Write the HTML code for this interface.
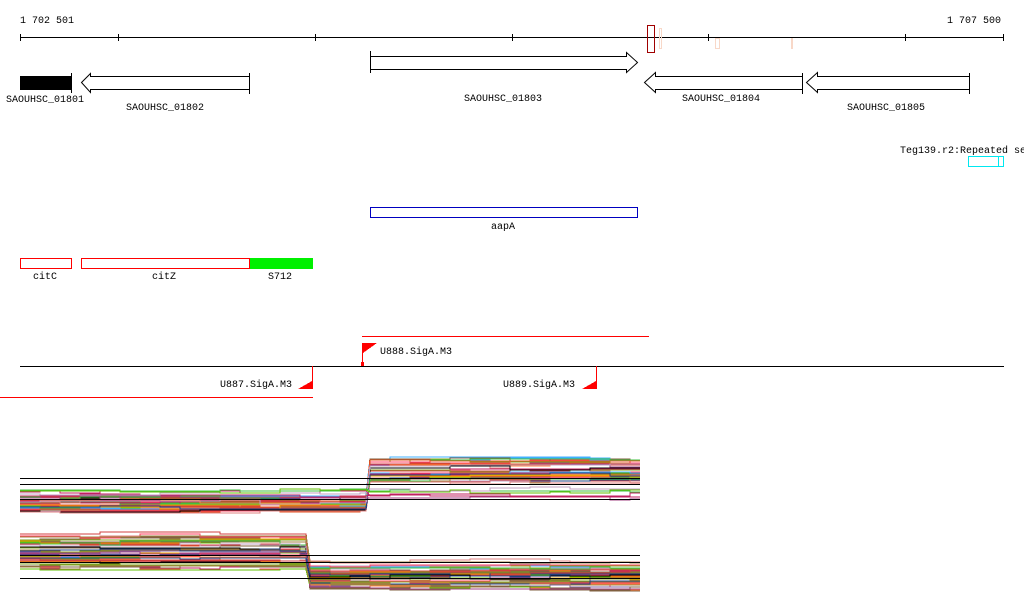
<!DOCTYPE html>
<html><head><meta charset="utf-8"><style>
html,body{margin:0;padding:0;background:#fff;width:1024px;height:611px;overflow:hidden}
svg text{font-family:"Liberation Mono",monospace;font-size:10px;fill:#000}
</style></head><body>
<svg id="s" width="1024" height="611" xmlns="http://www.w3.org/2000/svg" shape-rendering="crispEdges">
<text x="20" y="23">1 702 501</text>
<text x="947" y="23">1 707 500</text>
<g stroke="#000" stroke-width="1">
<line x1="20" y1="37.5" x2="1004" y2="37.5"/>
<line x1="20.5" y1="34" x2="20.5" y2="41"/><line x1="118.5" y1="34" x2="118.5" y2="41"/>
<line x1="315.5" y1="34" x2="315.5" y2="41"/><line x1="512.5" y1="34" x2="512.5" y2="41"/>
<line x1="708.5" y1="34" x2="708.5" y2="41"/><line x1="905.5" y1="34" x2="905.5" y2="41"/>
<line x1="1003.5" y1="34" x2="1003.5" y2="41"/>
</g>
<rect x="647.5" y="25.5" width="7" height="27" fill="none" stroke="#a00000"/>
<rect x="659.5" y="28.5" width="2" height="20" fill="none" stroke="#f8d8c8"/>
<rect x="715.5" y="38.5" width="4" height="10" fill="none" stroke="#f8d8c8"/>
<rect x="791.5" y="38.5" width="1" height="10" fill="none" stroke="#f8d8c8"/>
<rect x="20" y="76" width="51" height="14" fill="#000"/>
<line x1="71.5" y1="73" x2="71.5" y2="93" stroke="#000"/>
<text x="6" y="102">SAOUHSC_01801</text>
<g fill="#fff" stroke="#000" shape-rendering="auto">
<polygon points="81.5,82.5 90.5,73.5 90.5,76.5 249.5,76.5 249.5,89.5 90.5,89.5 90.5,92.5"/>
<polygon points="637.5,62.5 626.5,52.5 626.5,56.5 370.5,56.5 370.5,69.5 626.5,69.5 626.5,72.5"/>
<polygon points="644.5,82.5 655.5,72.5 655.5,76.5 802.5,76.5 802.5,89.5 655.5,89.5 655.5,92.5"/>
<polygon points="806.5,82.5 817.5,72.5 817.5,76.5 969.5,76.5 969.5,89.5 817.5,89.5 817.5,92.5"/>
</g>
<g stroke="#000"><line x1="249.5" y1="73" x2="249.5" y2="94"/><line x1="370.5" y1="51" x2="370.5" y2="73"/>
<line x1="802.5" y1="73" x2="802.5" y2="94"/><line x1="969.5" y1="73" x2="969.5" y2="94"/></g>
<text x="126" y="110">SAOUHSC_01802</text>
<text x="464" y="101">SAOUHSC_01803</text>
<text x="682" y="101">SAOUHSC_01804</text>
<text x="847" y="110">SAOUHSC_01805</text>
<text x="900" y="153">Teg139.r2:Repeated se</text>
<rect x="968.5" y="156.5" width="35" height="10" fill="none" stroke="#00e8f0"/>
<line x1="998.5" y1="156" x2="998.5" y2="167" stroke="#00e8f0"/>
<rect x="370.5" y="207.5" width="267" height="10" fill="none" stroke="#0000c0"/>
<text x="491" y="229">aapA</text>
<rect x="20.5" y="258.5" width="51" height="10" fill="none" stroke="#f00"/>
<rect x="81.5" y="258.5" width="168" height="10" fill="none" stroke="#f00"/>
<rect x="250" y="258" width="63" height="11" fill="#00f000"/>
<text x="33" y="279">citC</text><text x="152" y="279">citZ</text><text x="268" y="279">S712</text>
<line x1="362" y1="336.5" x2="649" y2="336.5" stroke="#f00"/>
<line x1="362.5" y1="343" x2="362.5" y2="366" stroke="#f00"/>
<polygon points="363,343 377,343 363,353" fill="#f00"/>
<rect x="361.5" y="362.5" width="2" height="3" fill="none" stroke="#f00"/>
<text x="380" y="354">U888.SigA.M3</text>
<line x1="20" y1="366.5" x2="1004" y2="366.5" stroke="#000"/>
<line x1="312.5" y1="366" x2="312.5" y2="389" stroke="#f00"/>
<polygon points="312,389 298,389 312,381" fill="#f00"/>
<text x="220" y="387">U887.SigA.M3</text>
<line x1="596.5" y1="366" x2="596.5" y2="389" stroke="#f00"/>
<polygon points="596,389 582,389 596,381" fill="#f00"/>
<text x="503" y="387">U889.SigA.M3</text>
<line x1="0" y1="397.5" x2="313" y2="397.5" stroke="#f00"/>
<g id="plots" fill="none" stroke-width="1.3"></g>
<g stroke="#000">
<line x1="20" y1="478.5" x2="640" y2="478.5"/><line x1="20" y1="484.5" x2="640" y2="484.5"/><line x1="20" y1="499.5" x2="640" y2="499.5"/>
<line x1="20" y1="555.5" x2="640" y2="555.5"/><line x1="20" y1="562.5" x2="640" y2="562.5"/><line x1="20" y1="578.5" x2="640" y2="578.5"/>
</g>
</svg>
<script>
(function(){
var seed=7;function r(){seed=(seed*16807)%2147483647;return seed/2147483647;}
var cols=["#e05020","#80a020","#c02060","#40b0ff","#a08040","#ff8040","#60c000","#8060a0","#d04040","#c0a0c0","#204080","#a04080","#e08080","#806040","#40c040","#000","#f0a000","#ff4060"];
var g=document.getElementById("plots"),ns="http://www.w3.org/2000/svg";
function line(pts,c){var p=document.createElementNS(ns,"polyline");p.setAttribute("points",pts.join(" "));p.setAttribute("stroke",c);g.appendChild(p);}
function seg(pts,xa,xb,y){var cy=y;for(var x=xa;x<xb;x+=20){var nx=Math.min(xb,x+20);pts.push(x+","+cy.toFixed(0));pts.push(nx+","+cy.toFixed(0));if(r()<0.3)cy=y+Math.round((r()-0.5)*4);}return cy;}
function track(x0,xs,x1,l0,l1,r0,r1,n){
 for(var i=0;i<n;i++){var c=cols[Math.floor(r()*cols.length)];
  var a=l0+r()*(l1-l0),b=r0+r()*(r1-r0),pts=[];
  seg(pts,x0,xs,a);
  seg(pts,xs+4,x1,b);
  line(pts,c);}
}
track(20,366,640,497,512,458,482,45);
track(20,366,640,488,500,485,498,6);
track(20,306,640,540,570,567,590,45);
track(20,306,640,533,545,560,572,8);
})();
</script>
</body></html>
